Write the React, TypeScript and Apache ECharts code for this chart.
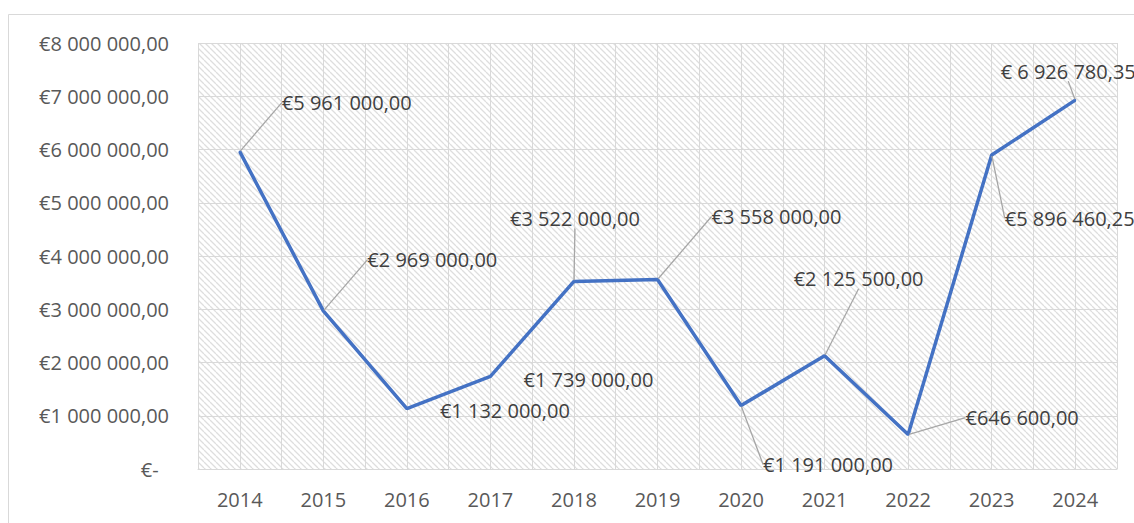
import React, { useEffect, useRef } from "react";
import * as echarts from "echarts";

const years = ["2014", "2015", "2016", "2017", "2018", "2019", "2020", "2021", "2022", "2023", "2024"];
const amounts = [5961000, 2969000, 1132000, 1739000, 3522000, 3558000, 1191000, 2125500, 646600, 5896460.25, 6926780.35];
const labelTexts = [
  "€5 961 000,00", "€2 969 000,00", "€1 132 000,00", "€1 739 000,00", "€3 522 000,00",
  "€3 558 000,00", "€1 191 000,00", "€2 125 500,00", "€646 600,00", "€5 896 460,25", "€ 6 926 780,35",
];
const yTickLabels = ["€-", "€1 000 000,00", "€2 000 000,00", "€3 000 000,00", "€4 000 000,00", "€5 000 000,00", "€6 000 000,00", "€7 000 000,00", "€8 000 000,00"];
// label shifts relative to the point (label centred on the point before shift)
const labelShifts: [number, number][] = [
  [107, -49], [109, -51], [98, 2], [98, 3], [1, -63], [119, -63], [87, 59], [34, -77], [114, -17], [78, 63], [-7, -29],
];
const hasLeader = [true, true, false, false, true, true, true, true, true, true, true];

function makeHatch() {
  const s = 6;
  const c = document.createElement("canvas");
  c.width = s;
  c.height = s;
  const ctx = c.getContext("2d")!;
  ctx.fillStyle = "#ffffff";
  ctx.fillRect(0, 0, s, s);
  ctx.strokeStyle = "#dedede";
  ctx.lineWidth = 1.3;
  ctx.beginPath();
  for (const o of [-s, 0, s]) {
    ctx.moveTo(o, 0);
    ctx.lineTo(o + s, s);
  }
  ctx.stroke();
  return c;
}

export default function App() {
  const ref = useRef<HTMLDivElement>(null);
  useEffect(() => {
    if (!ref.current) return;
    const chart = echarts.init(ref.current, undefined, { renderer: "svg" });
    const font = "'Open Sans', 'Noto Sans', sans-serif";
    const seriesData = amounts.map((v, i) => ({ value: v, labelLine: { show: hasLeader[i] } }));
    chart.setOption({
      animation: false,
      graphic: [
        {
          type: "rect",
          shape: { x: 8.5, y: 14.5, width: 1200, height: 600 },
          style: { fill: "none", stroke: "#d9d9d9", lineWidth: 1 },
          silent: true,
          z: -10,
        },
      ],
      grid: {
        left: 198,
        top: 43,
        width: 919,
        height: 426,
        show: true,
        borderWidth: 0,
        backgroundColor: { image: makeHatch(), repeat: "repeat" },
      },
      xAxis: [
        {
          type: "category",
          data: years,
          boundaryGap: true,
          axisLine: { show: true, lineStyle: { color: "#d9d9d9", width: 1 } },
          axisTick: { show: false },
          splitLine: { show: false },
          axisLabel: { color: "#595959", fontSize: 20, fontFamily: font, margin: 20 },
        },
        {
          type: "value",
          min: 0,
          max: 11,
          interval: 0.5,
          show: true,
          axisLine: { show: false },
          axisTick: { show: false },
          axisLabel: { show: false },
          splitLine: { show: true, lineStyle: { color: "#d9d9d9", width: 1 } },
        },
      ],
      yAxis: {
        type: "value",
        min: 0,
        max: 8000000,
        interval: 1000000,
        axisLine: { show: false },
        axisTick: { show: false },
        splitLine: { show: true, lineStyle: { color: "#d9d9d9", width: 1 } },
        axisLabel: {
          color: "#595959",
          fontSize: 20,
          fontFamily: font,
          margin: 29,
          formatter: (v: number) => {
            const i = Math.round(v / 1000000);
            return i === 0 ? yTickLabels[0] + "\u00a0\u00a0" : yTickLabels[i];
          },
        },
      },
      series: [
        {
          type: "line",
          xAxisIndex: 0,
          data: seriesData,
          symbol: "circle",
          symbolSize: 2,
          showSymbol: true,
          lineStyle: { color: "#4472C4", width: 3.5 },
          itemStyle: { color: "#4472C4" },
          z: 5,
          label: {
            show: true,
            position: "inside",
            align: "center",
            verticalAlign: "middle",
            color: "#404040",
            fontSize: 20,
            fontFamily: font,
            formatter: (p: any) => labelTexts[p.dataIndex],
          },
          labelLine: { show: true, lineStyle: { color: "#a6a6a6", width: 1.3 } },
          labelLayout: (p: any) => {
            const s = labelShifts[p.dataIndex];
            return { dx: s[0], dy: s[1] };
          },
        },
      ],
    });
    return () => chart.dispose();
  }, []);
  return (
    <div
      ref={ref}
      style={{ position: "fixed", left: 0, top: 0, width: 1134, height: 523, background: "#ffffff" }}
    />
  );
}
